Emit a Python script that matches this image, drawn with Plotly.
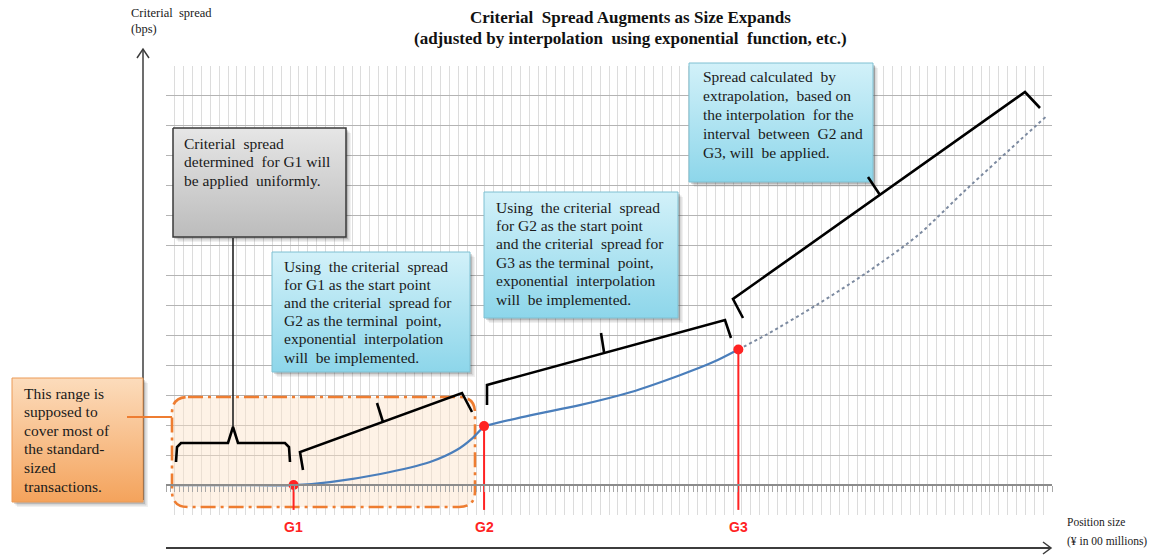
import plotly.graph_objects as go

# ---- data: criterial spread (y) against position size (x) ----
flat_x = [0.07, 0.70, 1.44]
flat_y = [1.0, 1.0, 1.0]
interp12_x = [1.44, 1.85, 2.42, 2.98, 3.28, 3.46, 3.59]
interp12_y = [1.0, 1.10, 1.37, 1.77, 2.17, 2.57, 2.97]
interp23_x = [3.59, 4.11, 4.67, 5.24, 5.80, 6.17, 6.46]
interp23_y = [2.97, 3.33, 3.67, 4.10, 4.67, 5.10, 5.53]
extrap_x = [6.46, 6.78, 7.35, 7.91, 8.48, 9.04, 9.94]
extrap_y = [5.53, 6.03, 7.03, 8.10, 9.33, 10.90, 13.33]
grid_names = ["G1", "G2", "G3"]
grid_x = [1.44, 3.59, 6.46]
grid_y = [1.0, 2.97, 5.53]

W, H = 1153, 556
PLOT_L, PLOT_R, PLOT_T, PLOT_B = 166, 1052, 66, 515
X_RANGE, Y_RANGE = [0, 10], [0, 15]
SERIF = "Liberation Serif"
SANS = "Liberation Sans"
BLUE = "#4a7ebb"
RED = "#ff2323"
ORANGE = "#ee7d31"


def to_data(px, py):
    """Convert a page pixel position into main-axis data units."""
    xd = X_RANGE[0] + (px - PLOT_L) / (PLOT_R - PLOT_L) * (X_RANGE[1] - X_RANGE[0])
    yd = Y_RANGE[0] + (PLOT_B - py) / (PLOT_B - PLOT_T) * (Y_RANGE[1] - Y_RANGE[0])
    return xd, yd


fig = go.Figure()

# ---- main chart (subplot xy) ----
for gx, gy in zip(grid_x, grid_y):
    fig.add_trace(go.Scatter(x=[gx, gx], y=[gy, 0.17], mode="lines",
                             line=dict(color=RED, width=2), hoverinfo="skip"))

fig.add_trace(go.Scatter(x=flat_x + interp12_x[1:], y=flat_y + interp12_y[1:],
                         mode="lines", line=dict(color=BLUE, width=2.2, shape="spline", smoothing=0.8)))
fig.add_trace(go.Scatter(x=interp23_x, y=interp23_y, mode="lines",
                         line=dict(color=BLUE, width=2.2, shape="spline", smoothing=0.8)))
fig.add_trace(go.Scatter(x=extrap_x, y=extrap_y, mode="lines",
                         line=dict(color="#7c8aa0", width=2, dash="dot", shape="spline", smoothing=0.8)))
fig.add_trace(go.Scatter(x=grid_x, y=grid_y, mode="markers",
                         marker=dict(color=RED, size=10)))

# axis carrying the tick marks along the base spread line
fig.add_trace(go.Scatter(x=[0], y=[0], xaxis="x2", yaxis="y", mode="markers",
                         marker=dict(opacity=0), hoverinfo="skip"))

# rounded dash-dot frame around the standard-size range (under the curve)
frame_px = [("M", 188, 397), ("L", 459, 397), ("Q", 475, 397), ("", 475, 413),
            ("L", 475, 491), ("Q", 475, 507), ("", 459, 507), ("L", 188, 507),
            ("Q", 172, 507), ("", 172, 491), ("L", 172, 413), ("Q", 172, 397),
            ("", 188, 397)]
parts = []
for cmd, px, py in frame_px:
    xd, yd = to_data(px, py)
    parts.append(f"{cmd} {xd:.4f},{yd:.4f}".strip())
fig.add_shape(type="path", xref="x", yref="y", layer="between",
              path=" ".join(parts) + " Z",
              fillcolor="rgba(252,226,200,0.45)",
              line=dict(color=ORANGE, width=2.6, dash="15px,5px,3px,5px"))


# ---- decorations drawn in pixel space (subplot x3y3) ----
def px_trace(xs, ys, **kw):
    kw.setdefault("mode", "lines")
    fig.add_trace(go.Scatter(x=xs, y=ys, xaxis="x3", yaxis="y3",
                             hoverinfo="skip", **kw))


def text_box(x0, y0, x1, y1, top, bottom, border, bw):
    for off, a in ((5, 0.06), (3.5, 0.10), (2, 0.14)):
        px_trace([x0 + off, x1 + off, x1 + off, x0 + off, x0 + off],
                 [y0 + off, y0 + off, y1 + off, y1 + off, y0 + off],
                 fill="toself", fillcolor=f"rgba(0,0,0,{a})", line=dict(width=0))
    px_trace([x0, x1, x1, x0, x0], [y0, y0, y1, y1, y0], fill="toself",
             fillgradient=dict(type="vertical", colorscale=[[0, top], [1, bottom]],
                               start=y0, stop=y1),
             line=dict(color=border, width=bw))


def brace(points, width=2.6):
    xs, ys = zip(*points)
    px_trace(list(xs), list(ys), line=dict(color="black", width=width))


# coordinate axes with arrow heads
AX = "#3c3c3c"
px_trace([143, 143], [500, 49], line=dict(color=AX, width=1.5))
px_trace([137, 143, 149], [58, 49, 58], line=dict(color=AX, width=1.5))
px_trace([166, 1051], [548, 548], line=dict(color=AX, width=1.8))
px_trace([1043, 1051, 1043], [542, 548, 554], line=dict(color=AX, width=1.5))

# text boxes
text_box(173, 128, 346, 237, "#e6e6e6", "#bcbcbc", "#3a3a3a", 1.5)
text_box(272, 252, 470, 372, "#d2f1f9", "#8dd6ea", "#7fc0d2", 1)
text_box(484, 192, 678, 318, "#d2f1f9", "#8dd6ea", "#7fc0d2", 1)
text_box(689, 63, 873, 182, "#d2f1f9", "#8dd6ea", "#7fc0d2", 1)
text_box(12, 378, 143, 502, "#fcdcbc", "#f4a35c", "#eb9a57", 1)

# orange connector to the highlighted range
px_trace([127, 172], [417, 417], line=dict(color=ORANGE, width=2.2))

# braces
px_trace([233, 233], [428, 238], line=dict(color="#222222", width=1.6))
brace([(176, 462), (177, 447), (181, 443), (228, 443), (233, 427),
       (238, 443), (285, 443), (289, 447), (290, 462)])
brace([(303, 470), (300, 452), (462, 393), (472, 412)])
brace([(383, 422), (377, 403)])
brace([(487, 405), (487, 385), (725, 320), (731, 338)])
brace([(604, 352), (601, 333)])
brace([(743, 318), (733, 299), (1025, 92), (1040, 108)])
brace([(880, 195), (868, 177)])

# ---- texts ----
ann = []


def txt(x, y, s, size=15.5, xref="x3", yref="y3", xanchor="left", yanchor="middle",
        color="#1a1a1a", family=SERIF, align="left"):
    ann.append(dict(x=x, y=y, xref=xref, yref=yref, text=s, showarrow=False,
                    xanchor=xanchor, yanchor=yanchor, align=align,
                    font=dict(family=family, size=size, color=color)))


def lines(x, y0, step, rows, **kw):
    for i, row in enumerate(rows):
        txt(x, y0 + i * step, row, **kw)


txt(630, 17, "<b>Criterial  Spread Augments as Size Expands</b>", size=17,
    xanchor="center", align="center", color="#111111")
txt(630, 38, "<b>(adjusted by interpolation  using exponential  function, etc.)</b>",
    size=17, xanchor="center", align="center", color="#111111")
txt(129, 13, "Criterial  spread", size=12.5)
txt(129, 29, "(bps)", size=12.5)
txt(1065, 522, "Position size", size=11.5)
txt(1065, 541, "(¥ in 00 millions)", size=11.5)

lines(182, 143, 18.5, ["Criterial  spread", "determined  for G1 will",
                       "be applied  uniformly."])
lines(282, 266, 18.2, ["Using  the criterial  spread", "for G1 as the start point",
                       "and the criterial  spread for", "G2 as the terminal  point,",
                       "exponential  interpolation", "will  be implemented."])
lines(494, 207, 18.4, ["Using  the criterial  spread", "for G2 as the start point",
                       "and the criterial  spread for", "G3 as the terminal  point,",
                       "exponential  interpolation", "will  be implemented."])
lines(701, 76, 19, ["Spread calculated  by", "extrapolation,  based on",
                    "the interpolation  for the", "interval  between  G2 and",
                    "G3, will  be applied."])
lines(22, 393, 18.6, ["This range is", "supposed to", "cover most of",
                      "the standard-", "sized", "transactions."])

for name, gx in zip(grid_names, grid_x):
    txt(gx, 527, f"<b>{name}</b>", size=14, xref="x", yref="y3", xanchor="center",
        color=RED, family=SANS, align="center")

fig.update_layout(
    width=W, height=H,
    margin=dict(l=0, r=0, t=0, b=0),
    paper_bgcolor="white", plot_bgcolor="rgba(0,0,0,0)",
    showlegend=False,
    annotations=ann,
    xaxis=dict(domain=[PLOT_L / W, PLOT_R / W], range=X_RANGE, dtick=0.1,
               showgrid=True, gridcolor="#dcdcdc", gridwidth=1,
               showticklabels=False, ticks="", zeroline=False, showline=False,
               fixedrange=True),
    yaxis=dict(domain=[(H - PLOT_B) / H, (H - PLOT_T) / H], range=Y_RANGE, dtick=1,
               showgrid=True, gridcolor="#b4b4b4", gridwidth=1,
               showticklabels=False, ticks="", zeroline=False, showline=False,
               fixedrange=True),
    xaxis2=dict(overlaying="x", anchor="free", position=(H - 485) / H,
                range=X_RANGE, dtick=0.05, showgrid=False, showline=True,
                linecolor="#8c8c8c", linewidth=1.5, ticks="outside", ticklen=6,
                tickcolor="#a8a8a8", showticklabels=False, zeroline=False,
                fixedrange=True),
    xaxis3=dict(domain=[0, 1], range=[0, W], visible=False, anchor="y3",
                fixedrange=True),
    yaxis3=dict(domain=[0, 1], range=[H, 0], visible=False, anchor="x3",
                fixedrange=True),
)

fig.write_html("out.html")
